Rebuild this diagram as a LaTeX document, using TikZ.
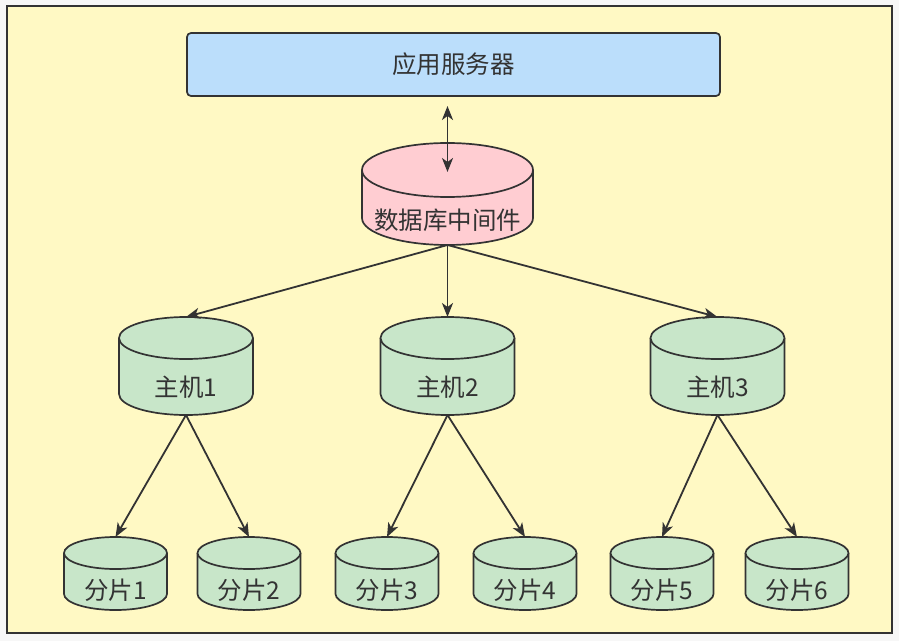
\documentclass[tikz,border=0pt]{standalone}
\usepackage{fontspec}
\setmainfont{Noto Sans CJK SC}
\usetikzlibrary{arrows.meta}
\definecolor{edge}{HTML}{333333}
\definecolor{bgout}{HTML}{F7F7F7}
\definecolor{bgin}{HTML}{FFF9C4}
\definecolor{bluef}{HTML}{BBDEFB}
\definecolor{pinkf}{HTML}{FFCDD2}
\definecolor{greenf}{HTML}{C8E6C9}
\newcommand\dbcyl[9]{% name, cx, topcenterY, w, h(body between ellipse centers), ry, fill, text, textY
  \fill[#7] (#2-#4/2,#3) -- (#2-#4/2,#3-#5) arc[start angle=180,end angle=360,x radius=#4/2,y radius=#6] -- (#2+#4/2,#3) -- cycle;
  \draw[cylline] (#2-#4/2,#3) -- (#2-#4/2,#3-#5) arc[start angle=180,end angle=360,x radius=#4/2,y radius=#6] -- (#2+#4/2,#3);
  \draw[cylline,fill=#7] (#2,#3) ellipse[x radius=#4/2,y radius=#6];
  \node[inner sep=0pt,outer sep=0pt,minimum width=#4,minimum height=#5+2*#6] (#1) at (#2,#3-#5/2) {};
  \node[lbl] (#1t) at (#2,#9) {#8};
}
\begin{document}
\begin{tikzpicture}[x=1pt,y=1pt,
  cylline/.style={draw=edge,line width=1.7pt},
  lbl/.style={text=edge,font=\fontsize{24.5}{28}\selectfont,inner sep=0pt},
  tip/.style={Stealth[length=14pt,width=11pt,inset=4pt]},
  conn/.style={draw=edge,line width=1.8pt,-{Stealth[length=14pt,width=11pt,inset=4pt]}},
  appbox/.style={draw=edge,line width=1.7pt,fill=bluef,rounded corners=4pt,minimum width=533pt,minimum height=63pt,inner sep=0pt}
]
\useasboundingbox (0,0) rectangle (899,641);
\fill[bgout] (0,0) rectangle (899,641);
\draw[edge,line width=2.2pt,fill=bgin] (7,8) rectangle (892,635);

\node[appbox] (app) at (453.5,576.5) {};
\node[lbl] (appt) at (app.center) {应用服务器};

\dbcyl{mw}{447.5}{471}{171}{48}{27}{pinkf}{数据库中间件}{421}

\dbcyl{h1}{186}{303}{134}{56}{21}{greenf}{主机1}{254}
\dbcyl{h2}{447.5}{303}{134}{56}{21}{greenf}{主机2}{254}
\dbcyl{h3}{717.5}{303}{134}{56}{21}{greenf}{主机3}{254}

\dbcyl{s1}{115.5}{88}{103}{41}{16}{greenf}{分片1}{51}
\dbcyl{s2}{249}{88}{103}{41}{16}{greenf}{分片2}{51}
\dbcyl{s3}{387}{88}{103}{41}{16}{greenf}{分片3}{51}
\dbcyl{s4}{525}{88}{103}{41}{16}{greenf}{分片4}{51}
\dbcyl{s5}{662}{88}{103}{41}{16}{greenf}{分片5}{51}
\dbcyl{s6}{797}{88}{103}{41}{16}{greenf}{分片6}{51}

\coordinate (mwin) at (447.5,469);
\coordinate (appout) at (447.5,545);
\draw[conn,{Stealth[length=14pt,width=11pt,inset=4pt]}-{Stealth[length=14pt,width=11pt,inset=4pt]},shorten <=10pt] (appout) -- (mwin);

\draw[conn] (mw.south) -- (h1.north);
\draw[conn] (mw.south) -- (h2.north);
\draw[conn] (mw.south) -- (h3.north);

\draw[conn] (h1.south) -- (s1.north);
\draw[conn] (h1.south) -- (s2.north);
\draw[conn] (h2.south) -- (s3.north);
\draw[conn] (h2.south) -- (s4.north);
\draw[conn] (h3.south) -- (s5.north);
\draw[conn] (h3.south) -- (s6.north);
\end{tikzpicture}
\end{document}
